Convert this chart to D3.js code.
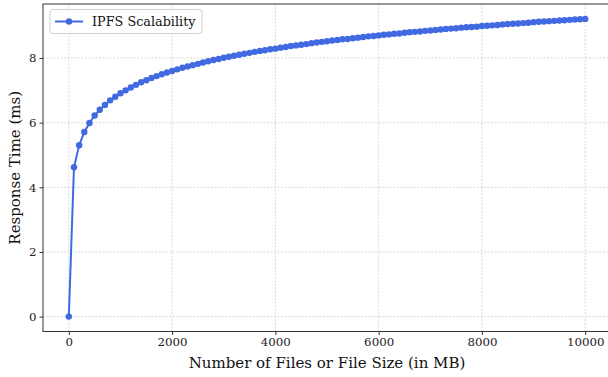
<!DOCTYPE html>
<html>
<head>
<meta charset="utf-8">
<script src="https://cdn.jsdelivr.net/npm/d3@7"></script>
<style>
  body { margin: 0; background: #fff; }
  svg { display: block; font-family: "DejaVu Serif", serif; }
</style>
</head>
<body>
<svg width="608" height="377"></svg>
<script>
const sizes = [
  0, 100, 200, 300, 400, 500, 600, 700, 800, 900,
  1000, 1100, 1200, 1300, 1400, 1500, 1600, 1700, 1800, 1900,
  2000, 2100, 2200, 2300, 2400, 2500, 2600, 2700, 2800, 2900,
  3000, 3100, 3200, 3300, 3400, 3500, 3600, 3700, 3800, 3900,
  4000, 4100, 4200, 4300, 4400, 4500, 4600, 4700, 4800, 4900,
  5000, 5100, 5200, 5300, 5400, 5500, 5600, 5700, 5800, 5900,
  6000, 6100, 6200, 6300, 6400, 6500, 6600, 6700, 6800, 6900,
  7000, 7100, 7200, 7300, 7400, 7500, 7600, 7700, 7800, 7900,
  8000, 8100, 8200, 8300, 8400, 8500, 8600, 8700, 8800, 8900,
  9000, 9100, 9200, 9300, 9400, 9500, 9600, 9700, 9800, 9900,
  10000
];

const responseTimes = [
  0.00, 4.62, 5.30, 5.71, 5.99, 6.22, 6.40, 6.55, 6.69, 6.80,
  6.91, 7.00, 7.09, 7.17, 7.25, 7.31, 7.38, 7.44, 7.50, 7.55,
  7.60, 7.65, 7.70, 7.74, 7.78, 7.82, 7.86, 7.90, 7.94, 7.97,
  8.01, 8.04, 8.07, 8.10, 8.13, 8.16, 8.19, 8.22, 8.24, 8.27,
  8.29, 8.32, 8.34, 8.37, 8.39, 8.41, 8.43, 8.46, 8.48, 8.50,
  8.52, 8.54, 8.56, 8.58, 8.59, 8.61, 8.63, 8.65, 8.67, 8.68,
  8.70, 8.72, 8.73, 8.75, 8.76, 8.78, 8.80, 8.81, 8.82, 8.84,
  8.85, 8.87, 8.88, 8.90, 8.91, 8.92, 8.94, 8.95, 8.96, 8.97,
  8.99, 9.00, 9.01, 9.02, 9.04, 9.05, 9.06, 9.07, 9.08, 9.09,
  9.11, 9.12, 9.13, 9.14, 9.15, 9.16, 9.17, 9.18, 9.19, 9.20,
  9.21
];

const xTicks = [0, 2000, 4000, 6000, 8000, 10000];
const yTicks = [0, 2, 4, 6, 8];
const seriesName = "IPFS Scalability";

const data = sizes.map((s, i) => ({ x: s, y: responseTimes[i] }));

const svg = d3.select("svg");
const plotLeft = 43, plotRight = 611, plotTop = 4, plotBottom = 331.5;
const color = "#4169e1";

const xScale = d3.scaleLinear().domain([-500, 10500]).range([plotLeft, plotRight]);
const yScale = d3.scaleLinear().domain([-0.4605, 9.671]).range([plotBottom, plotTop]);

// grid
const grid = svg.append("g").attr("stroke", "#c8c8c8").attr("stroke-width", 0.7).attr("stroke-dasharray", "2,1.5");
grid.selectAll(".gx").data(xTicks).enter().append("line")
  .attr("x1", (d) => xScale(d)).attr("x2", (d) => xScale(d))
  .attr("y1", plotTop).attr("y2", plotBottom);
grid.selectAll(".gy").data(yTicks).enter().append("line")
  .attr("x1", plotLeft).attr("x2", plotRight)
  .attr("y1", (d) => yScale(d)).attr("y2", (d) => yScale(d));

// axes
const xAxis = d3.axisBottom(xScale).tickValues(xTicks).tickFormat(d3.format("d"))
  .tickSize(3.5).tickPadding(3).tickSizeOuter(0);
const yAxis = d3.axisLeft(yScale).tickValues(yTicks).tickFormat(d3.format("d"))
  .tickSize(3.5).tickPadding(3).tickSizeOuter(0);

const gx = svg.append("g").attr("transform", `translate(0,${plotBottom})`).call(xAxis);
const gy = svg.append("g").attr("transform", `translate(${plotLeft},0)`).call(yAxis);
[gx, gy].forEach((g) => {
  g.attr("font-family", "DejaVu Serif").attr("font-size", 11.8);
  g.selectAll("text").attr("fill", "#222");
  g.selectAll("line").attr("stroke", "#333");
  g.select(".domain").remove();
});

// spines
svg.append("rect").attr("x", plotLeft).attr("y", plotTop)
  .attr("width", plotRight - plotLeft).attr("height", plotBottom - plotTop)
  .attr("fill", "none").attr("stroke", "#333").attr("stroke-width", 1);

// line + markers
const line = d3.line().x((d) => xScale(d.x)).y((d) => yScale(d.y));
svg.append("path").datum(data).attr("d", line)
  .attr("fill", "none").attr("stroke", color).attr("stroke-width", 2);
svg.selectAll(".dot").data(data).enter().append("circle")
  .attr("class", "dot")
  .attr("cx", (d) => xScale(d.x)).attr("cy", (d) => yScale(d.y))
  .attr("r", 3.2).attr("fill", color);

// labels
svg.append("text").attr("x", (plotLeft + plotRight) / 2).attr("y", 368)
  .attr("text-anchor", "middle").attr("font-size", 15).attr("fill", "#111")
  .text("Number of Files or File Size (in MB)");
svg.append("text").attr("transform", `translate(20,${(plotTop + plotBottom) / 2}) rotate(-90)`)
  .attr("text-anchor", "middle").attr("font-size", 15).attr("fill", "#111")
  .text("Response Time (ms)");

// legend
const lg = svg.append("g");
lg.append("rect").attr("x", 50).attr("y", 9.5).attr("width", 152).attr("height", 24)
  .attr("rx", 2.5).attr("fill", "#fff").attr("fill-opacity", 0.8)
  .attr("stroke", "#d0d0d0").attr("stroke-width", 1);
lg.append("line").attr("x1", 55).attr("x2", 83).attr("y1", 21.5).attr("y2", 21.5)
  .attr("stroke", color).attr("stroke-width", 2);
lg.append("circle").attr("cx", 69).attr("cy", 21.5).attr("r", 3.2).attr("fill", color);
lg.append("text").attr("x", 92).attr("y", 26).attr("font-size", 12.8).attr("fill", "#111").text(seriesName);
</script>
</body>
</html>
